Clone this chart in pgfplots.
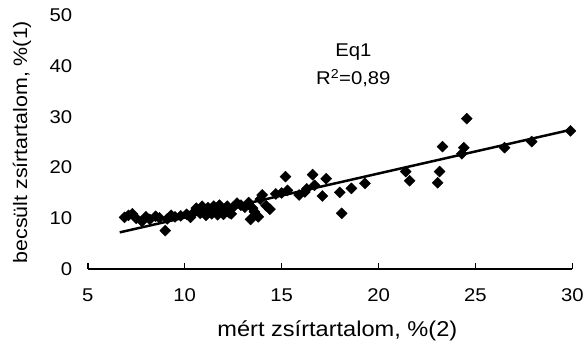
\documentclass[border=0pt]{standalone}
\usepackage{pgfplots}
\pgfplotsset{compat=1.18}
\usepackage{fontspec}
\setmainfont{Liberation Sans}[FakeStretch=1.1]
\begin{document}
\begin{tikzpicture}
\begin{axis}[
  scale only axis,
  width=486pt, height=255pt,
  xmin=5, xmax=30, ymin=0, ymax=50,
  xtick={5,10,15,20,25,30},
  ytick={0,10,20,30,40,50},
  axis x line*=bottom,
  axis y line*=left,
  axis line style={-, line width=1.6pt},
  y axis line style={draw=none},
  ytick style={draw=none},
  xtick style={line width=1.6pt, black},
  tick align=inside,
  major tick length=6pt,
  /pgf/number format/assume math mode=true,
  tick label style={font=\fontsize{18.5}{21}\selectfont},
  yticklabel style={anchor=east, xshift=-12pt},
  xticklabel style={anchor=north, yshift=-16pt},
  label style={font=\fontsize{19.5}{22}\selectfont},
  xlabel={mért zsírtartalom, \%(2)},
  ylabel={becsült zsírtartalom, \%(1)},
  xlabel style={at={(axis description cs:0.515,-0.243)}, anchor=center, font=\fontsize{21.5}{24}\selectfont},
  ylabel style={at={(axis description cs:-0.1358,0.5)}, anchor=center, rotate=0},
  clip=false,
]
\addplot[only marks, mark=square*, mark size=3.9pt, mark options={rotate=45, fill=black, draw=black}] table {
x y
6.9 10.2
7.1 10.6
7.3 10.9
7.5 10.0
7.8 9.4
8.0 10.3
8.2 9.8
8.5 10.4
8.7 10.1
9.0 7.6
9.1 9.9
9.3 10.6
9.5 10.3
9.8 10.5
10.1 10.8
10.3 10.2
10.5 11.3
10.6 12.0
10.8 11.0
10.9 12.4
11.0 11.5
11.1 10.6
11.2 12.1
11.3 11.2
11.4 10.9
11.5 12.4
11.6 11.6
11.7 10.7
11.8 12.6
11.9 11.2
12.0 10.8
12.1 11.9
12.2 12.4
12.3 11.1
12.4 10.9
12.5 12.2
12.7 13.0
12.9 12.6
13.1 12.2
13.3 13.1
13.4 9.8
13.5 12.0
13.6 11.3
13.8 10.3
13.9 13.8
14.0 14.6
14.2 12.5
14.4 11.8
14.7 14.8
15.0 15.0
15.2 18.2
15.3 15.5
15.9 14.6
16.2 15.2
16.3 15.8
16.6 18.6
16.7 16.5
17.1 14.4
17.3 17.8
18.0 15.1
18.1 11.0
18.6 15.9
19.3 16.9
21.4 19.2
21.6 17.4
23.05 17.0
23.15 19.2
23.3 24.1
24.3 22.7
24.4 23.9
24.55 29.6
26.5 23.9
27.9 25.1
29.9 27.2
};
\addplot[black, line width=2.5pt] coordinates {(6.65,7.25) (29.95,27.45)};
\node[font=\fontsize{18.5}{21}\selectfont] at (axis cs:18.7,42.7) {Eq1};
\node[font=\fontsize{18.5}{21}\selectfont] at (axis cs:18.7,37.6) {R\textsuperscript{2}=0,89};
\path (rel axis cs:0,0) ++(-88pt,-82pt) coordinate (bbsw);
\path (rel axis cs:1,1) ++(13pt,15pt) coordinate (bbne);
\path (bbsw) rectangle (bbne);
\end{axis}
\end{tikzpicture}
\end{document}
